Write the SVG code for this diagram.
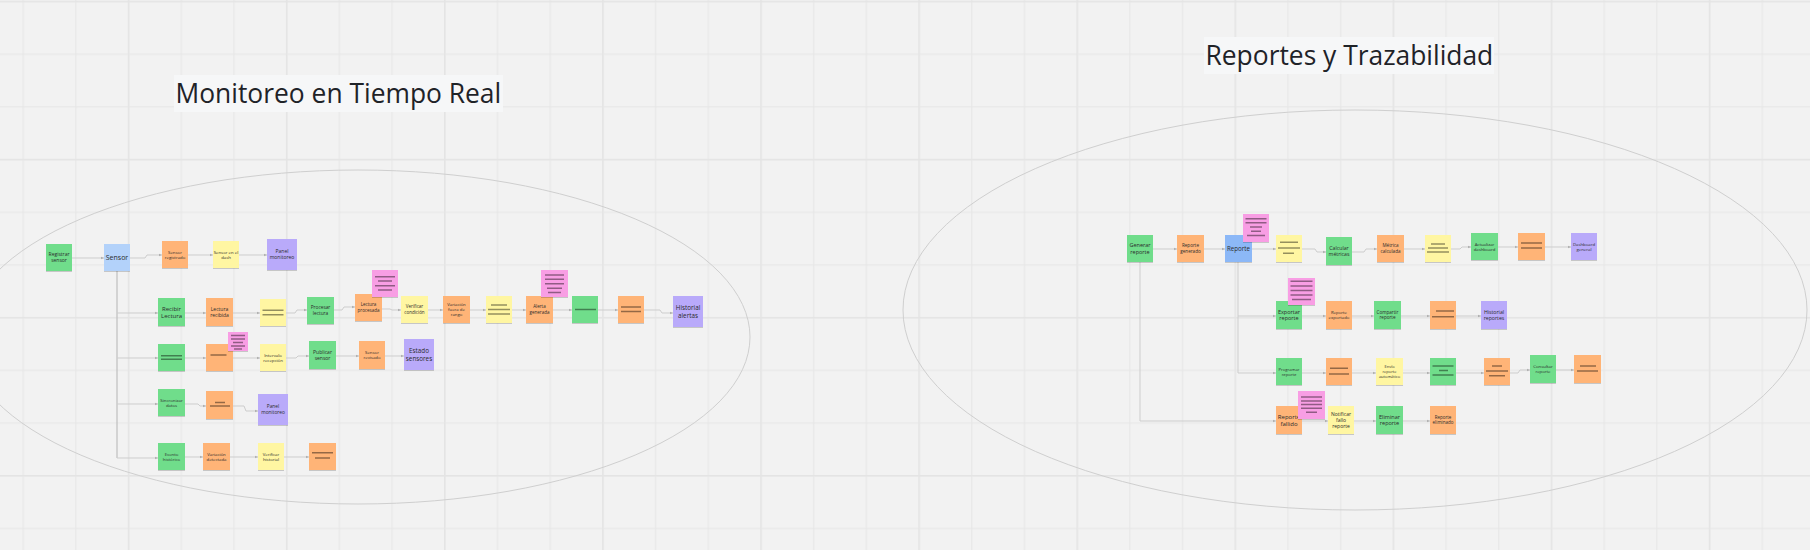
<svg xmlns="http://www.w3.org/2000/svg" width="1810" height="550" viewBox="0 0 1810 550">
<style>
.t{font-family:"Open Sans","Liberation Sans",sans-serif;fill:#2b2b2b;text-anchor:middle}
.title{font-family:"Open Sans","Liberation Sans",sans-serif;fill:#1f2328;font-size:26.4px}
.st{filter:url(#sh)}
.green{fill:#6fdd8b}.orange{fill:#ffb477}.yellow{fill:#fff6a2}.purple{fill:#b9aafa}.pink{fill:#f89ee4}.blue1{fill:#b3d2fa}.blue2{fill:#8cb8f7}
.bar{fill:none;stroke:#000;stroke-opacity:.42;stroke-width:1.5}
.c{fill:none;stroke:#cdcdcd;stroke-width:1;marker-end:url(#ah)}
.tr{fill:none;stroke:#c2c2c2;stroke-width:1.3}
.ell{fill:none;stroke:#cfcfcf;stroke-width:1}
</style>
<defs>
<pattern id="grid" patternUnits="userSpaceOnUse" x="-30.3" y="0.7" width="158.1" height="158.1">
<rect x="0" y="0" width="1.6" height="158.1" fill="#e4e4e4"/>
<rect x="53" y="0" width="1" height="158.1" fill="#e6e6e6"/>
<rect x="105.7" y="0" width="1" height="158.1" fill="#e6e6e6"/>
<rect x="0" y="0" width="158.1" height="1.6" fill="#e4e4e4"/>
<rect x="0" y="53" width="158.1" height="1" fill="#e6e6e6"/>
<rect x="0" y="105.7" width="158.1" height="1" fill="#e6e6e6"/>
</pattern>
<filter id="sh" x="-20%" y="-20%" width="140%" height="150%">
<feDropShadow dx="0" dy="1" stdDeviation="0.7" flood-color="#000" flood-opacity="0.18"/>
</filter>
<marker id="ah" markerUnits="userSpaceOnUse" markerWidth="4" markerHeight="4" refX="3.5" refY="2" orient="auto">
<path d="M0 0.5L3.5 2L0 3.5z" fill="#b0b0b0"/>
</marker>
</defs>
<rect width="1810" height="550" fill="#f2f2f2"/>
<rect width="1810" height="550" fill="url(#grid)"/>

<g id="frames">
<ellipse class="ell" cx="358" cy="337" rx="392" ry="167"/>
<ellipse class="ell" cx="1355" cy="310" rx="452" ry="200"/>
</g>

<g id="title-monitoreo">
<rect x="174" y="75" width="329" height="37" fill="#f6f7f8"/>
<text class="title" x="175.5" y="103.3">Monitoreo en Tiempo Real</text>
</g>
<g id="title-reportes">
<rect x="1204" y="37" width="290" height="37" fill="#f6f7f8"/>
<text class="title" x="1205.5" y="65">Reportes y Trazabilidad</text>
</g>

<g id="connectors">
<path class="c" d="M72 258H104"/>
<path class="c" d="M130 258H145L147 255H162"/>
<path class="c" d="M188 255H213"/>
<path class="c" d="M239 255H267"/>
<path class="tr" d="M117 271V458"/>
<path class="c" d="M117 313H158"/>
<path class="c" d="M117 358H158"/>
<path class="c" d="M117 404H158"/>
<path class="c" d="M117 458H158"/>
<path class="c" d="M185 313H206"/>
<path class="c" d="M233 313H260"/>
<path class="c" d="M286 313H295L297 310H307"/>
<path class="c" d="M334 310H342L344 307H355"/>
<path class="c" d="M382 309H390L392 310H401"/>
<path class="c" d="M428 310H443"/>
<path class="c" d="M470 310H486"/>
<path class="c" d="M512 310H526"/>
<path class="c" d="M553 310H572"/>
<path class="c" d="M598 310H618"/>
<path class="c" d="M644 310H660L662 313H673"/>
<path class="c" d="M185 358H206"/>
<path class="c" d="M233 358H260"/>
<path class="c" d="M286 358H296L298 356H309"/>
<path class="c" d="M336 356H359"/>
<path class="c" d="M385 356H404"/>
<path class="c" d="M185 404H198L200 406H206"/>
<path class="c" d="M233 406H244L246 411H258"/>
<path class="c" d="M185 457H203"/>
<path class="c" d="M230 457H258"/>
<path class="c" d="M284 457H309"/>
<path class="c" d="M1153 249H1177"/>
<path class="c" d="M1204 249H1225"/>
<path class="c" d="M1252 249H1276"/>
<path class="c" d="M1302 249H1315L1317 252H1326"/>
<path class="c" d="M1352 252H1364L1366 249H1377"/>
<path class="c" d="M1404 249H1425"/>
<path class="c" d="M1451 249H1460L1462 247H1471"/>
<path class="c" d="M1498 247H1518"/>
<path class="c" d="M1545 247H1571"/>
<path class="c" d="M1140 262V421H1276"/>
<path class="c" d="M1238 262V373H1276"/>
<path class="c" d="M1238 316H1276"/>
<path class="c" d="M1302 316H1326"/>
<path class="c" d="M1352 316H1374"/>
<path class="c" d="M1401 316H1430"/>
<path class="c" d="M1456 316H1481"/>
<path class="c" d="M1302 373H1326"/>
<path class="c" d="M1352 373H1376"/>
<path class="c" d="M1403 373H1430"/>
<path class="c" d="M1456 373H1484"/>
<path class="c" d="M1510 373H1518L1520 370H1530"/>
<path class="c" d="M1556 370H1574"/>
<path class="c" d="M1302 421H1328"/>
<path class="c" d="M1354 421H1376"/>
<path class="c" d="M1403 421H1430"/>
</g>

<!-- LEFT: Monitoreo -->
<g id="n-registrar-sensor"><rect class="st green" x="46" y="244" width="26" height="27"/><text class="t" font-size="5" x="59" y="256.3"><tspan x="59">Registrar</tspan><tspan x="59" dy="1.2em">sensor</tspan></text></g>
<g id="n-sensor"><rect class="st blue1" x="104" y="244" width="26" height="27"/><text class="t" font-size="7" x="117" y="260">Sensor</text></g>
<g id="n-sensor-registrado"><rect class="st orange" x="162" y="241" width="26" height="27"/><text class="t" font-size="4.3" x="175" y="253.5"><tspan x="175">Sensor</tspan><tspan x="175" dy="1.2em">registrado</tspan></text></g>
<g id="n-sensor-dash"><rect class="st yellow" x="213" y="241" width="26" height="27"/><text class="t" font-size="4.3" x="226" y="253.5"><tspan x="226">Sensor en el</tspan><tspan x="226" dy="1.2em">dash</tspan></text></g>
<g id="n-panel-monitoreo"><rect class="st purple" x="267" y="239" width="30" height="31"/><text class="t" font-size="5" x="282" y="253.3"><tspan x="282">Panel</tspan><tspan x="282" dy="1.2em">monitoreo</tspan></text></g>

<g id="n-recibir-lectura"><rect class="st green" x="158" y="298" width="27" height="28"/><text class="t" font-size="6" x="171.5" y="310.6"><tspan x="171.5">Recibir</tspan><tspan x="171.5" dy="1.2em">Lectura</tspan></text></g>
<g id="n-lectura-recibida"><rect class="st orange" x="206" y="298" width="27" height="28"/><text class="t" font-size="5" x="219.5" y="310.8"><tspan x="219.5">Lectura</tspan><tspan x="219.5" dy="1.2em">recibida</tspan></text></g>
<g id="n-y1"><rect class="st yellow" x="260" y="299" width="26" height="27"/><path class="bar" d="M262.5 310.3H283.5M262.5 314.8H283.5"/></g>
<g id="n-procesar-lectura"><rect class="st green" x="307" y="297" width="27" height="27"/><text class="t" font-size="4.8" x="320.5" y="309.4"><tspan x="320.5">Procesar</tspan><tspan x="320.5" dy="1.2em">lectura</tspan></text></g>
<g id="n-lectura-procesada"><rect class="st orange" x="355" y="294" width="27" height="27"/><text class="t" font-size="4.5" x="368.5" y="306.4"><tspan x="368.5">Lectura</tspan><tspan x="368.5" dy="1.2em">procesada</tspan></text></g>
<g id="n-pink1"><rect class="st pink" x="372" y="270" width="26" height="27"/><path class="bar" d="M375 276.7H395M378 281H392M375 285.7H395M378 290H392"/></g>
<g id="n-verificar-condicion"><rect class="st yellow" x="401" y="296" width="27" height="27"/><text class="t" font-size="4.5" x="414.5" y="308.4"><tspan x="414.5">Verificar</tspan><tspan x="414.5" dy="1.2em">condición</tspan></text></g>
<g id="n-variacion-fuera"><rect class="st orange" x="443" y="296" width="27" height="27"/><text class="t" font-size="4.3" x="456.5" y="305.9"><tspan x="456.5">Variación</tspan><tspan x="456.5" dy="1.2em">fuera de</tspan><tspan x="456.5" dy="1.2em">rango</tspan></text></g>
<g id="n-y2"><rect class="st yellow" x="486" y="296" width="26" height="27"/><path class="bar" d="M491 305H507M488 309.5H510M488 314H510"/></g>
<g id="n-alerta-generada"><rect class="st orange" x="526" y="296" width="27" height="27"/><text class="t" font-size="4.5" x="539.5" y="308.4"><tspan x="539.5">Alerta</tspan><tspan x="539.5" dy="1.2em">generada</tspan></text></g>
<g id="n-pink2"><rect class="st pink" x="541" y="270" width="27" height="27"/><path class="bar" d="M545 275H564M545 279.3H564M545 283.8H564M547 288.2H562M548 292.6H561"/></g>
<g id="n-g2"><rect class="st green" x="572" y="296" width="26" height="27"/><path class="bar" d="M575 309.5H596"/></g>
<g id="n-o2"><rect class="st orange" x="618" y="296" width="26" height="27"/><path class="bar" d="M621 307H641M621 311.5H641"/></g>
<g id="n-historial-alertas"><rect class="st purple" x="673" y="296" width="30" height="31"/><text class="t" font-size="6.3" x="688" y="310"><tspan x="688">Historial</tspan><tspan x="688" dy="1.2em">alertas</tspan></text></g>

<g id="n-g3"><rect class="st green" x="158" y="344" width="27" height="27"/><path class="bar" d="M161 355.8H182M161 359.3H182"/></g>
<g id="n-o3"><rect class="st orange" x="206" y="344" width="27" height="27"/><path class="bar" d="M210.5 355H226.5"/></g>
<g id="n-pink3"><rect class="st pink" x="228" y="332" width="20" height="19"/><path class="bar" stroke-width="1.2" d="M231 335.5H245M231 339H245M233 342.5H243M231 346H245M234 349H242"/></g>
<g id="n-intervalo-recepcion"><rect class="st yellow" x="260" y="344" width="26" height="27"/><text class="t" font-size="4.3" x="273" y="356.5"><tspan x="273">Intervalo</tspan><tspan x="273" dy="1.2em">recepción</tspan></text></g>
<g id="n-publicar-sensor"><rect class="st green" x="309" y="341" width="27" height="28"/><text class="t" font-size="5" x="322.5" y="353.8"><tspan x="322.5">Publicar</tspan><tspan x="322.5" dy="1.2em">sensor</tspan></text></g>
<g id="n-sensor-revisado"><rect class="st orange" x="359" y="341" width="26" height="28"/><text class="t" font-size="4.3" x="372" y="354"><tspan x="372">Sensor</tspan><tspan x="372" dy="1.2em">revisado</tspan></text></g>
<g id="n-estado-sensores"><rect class="st purple" x="404" y="339" width="30" height="31"/><text class="t" font-size="6.3" x="419" y="353"><tspan x="419">Estado</tspan><tspan x="419" dy="1.2em">sensores</tspan></text></g>

<g id="n-sincronizar-datos"><rect class="st green" x="158" y="389" width="27" height="27"/><text class="t" font-size="4.3" x="171.5" y="401.5"><tspan x="171.5">Sincronizar</tspan><tspan x="171.5" dy="1.2em">datos</tspan></text></g>
<g id="n-o4"><rect class="st orange" x="206" y="391" width="27" height="28"/><path class="bar" d="M215 402.5H225M210 406H230"/></g>
<g id="n-panel-monitoreo-2"><rect class="st purple" x="258" y="394" width="30" height="31"/><text class="t" font-size="4.8" x="273" y="408.4"><tspan x="273">Panel</tspan><tspan x="273" dy="1.2em">monitoreo</tspan></text></g>

<g id="n-evento-historico"><rect class="st green" x="158" y="443" width="27" height="27"/><text class="t" font-size="4.3" x="171.5" y="455.5"><tspan x="171.5">Evento</tspan><tspan x="171.5" dy="1.2em">histórico</tspan></text></g>
<g id="n-variacion-detectada"><rect class="st orange" x="203" y="443" width="27" height="27"/><text class="t" font-size="4.3" x="216.5" y="455.5"><tspan x="216.5">Variación</tspan><tspan x="216.5" dy="1.2em">detectada</tspan></text></g>
<g id="n-verificar-historial"><rect class="st yellow" x="258" y="443" width="26" height="27"/><text class="t" font-size="4.3" x="271" y="455.5"><tspan x="271">Verificar</tspan><tspan x="271" dy="1.2em">historial</tspan></text></g>
<g id="n-o5"><rect class="st orange" x="309" y="443" width="27" height="27"/><path class="bar" d="M312 452.7H333M315 458H330"/></g>

<!-- RIGHT: Reportes -->
<g id="n-generar-reporte"><rect class="st green" x="1127" y="235" width="26" height="27"/><text class="t" font-size="5.5" x="1140" y="247.2"><tspan x="1140">Generar</tspan><tspan x="1140" dy="1.2em">reporte</tspan></text></g>
<g id="n-reporte-generado"><rect class="st orange" x="1177" y="235" width="27" height="27"/><text class="t" font-size="4.6" x="1190.5" y="247.4"><tspan x="1190.5">Reporte</tspan><tspan x="1190.5" dy="1.2em">generado</tspan></text></g>
<g id="n-reporte"><rect class="st blue2" x="1225" y="235" width="27" height="27"/><text class="t" font-size="6.2" x="1238.5" y="250.7">Reporte</text></g>
<g id="n-pink4"><rect class="st pink" x="1243" y="214" width="26" height="28"/><path class="bar" d="M1245.5 218.7H1266.5M1245.5 222.8H1266.5M1250 227H1262M1251 231.2H1261M1247 235.5H1265"/></g>
<g id="n-y3"><rect class="st yellow" x="1276" y="235" width="26" height="27"/><path class="bar" d="M1280 242.3H1298M1278 248H1300M1283 253.3H1294"/></g>
<g id="n-calcular-metricas"><rect class="st green" x="1326" y="237" width="26" height="28"/><text class="t" font-size="5.2" x="1339" y="249.8"><tspan x="1339">Calcular</tspan><tspan x="1339" dy="1.2em">métricas</tspan></text></g>
<g id="n-metrica-calculada"><rect class="st orange" x="1377" y="235" width="27" height="27"/><text class="t" font-size="4.6" x="1390.5" y="247.4"><tspan x="1390.5">Métrica</tspan><tspan x="1390.5" dy="1.2em">calculada</tspan></text></g>
<g id="n-y4"><rect class="st yellow" x="1425" y="235" width="26" height="27"/><path class="bar" d="M1431 244H1445M1428 248H1448M1427 252H1449"/></g>
<g id="n-actualizar-dashboard"><rect class="st green" x="1471" y="233" width="27" height="27"/><text class="t" font-size="4.3" x="1484.5" y="245.5"><tspan x="1484.5">Actualizar</tspan><tspan x="1484.5" dy="1.2em">dashboard</tspan></text></g>
<g id="n-o6"><rect class="st orange" x="1518" y="233" width="27" height="27"/><path class="bar" d="M1521 243H1542M1521 248H1542"/></g>
<g id="n-dashboard-general"><rect class="st purple" x="1571" y="233" width="26" height="27"/><text class="t" font-size="4.3" x="1584" y="245.5"><tspan x="1584">Dashboard</tspan><tspan x="1584" dy="1.2em">general</tspan></text></g>

<g id="n-exportar-reporte"><rect class="st green" x="1276" y="301" width="26" height="28"/><text class="t" font-size="5.5" x="1289" y="313.7"><tspan x="1289">Exportar</tspan><tspan x="1289" dy="1.2em">reporte</tspan></text></g>
<g id="n-pink5"><rect class="st pink" x="1288" y="278" width="27" height="27"/><path class="bar" d="M1290.5 281.3H1312.5M1290.5 286H1312.5M1290.5 290.6H1312.5M1290.5 295H1312.5M1292 299.4H1311"/></g>
<g id="n-reporte-exportado"><rect class="st orange" x="1326" y="301" width="26" height="28"/><text class="t" font-size="4.3" x="1339" y="314"><tspan x="1339">Reporte</tspan><tspan x="1339" dy="1.2em">exportado</tspan></text></g>
<g id="n-compartir-reporte"><rect class="st green" x="1374" y="301" width="27" height="28"/><text class="t" font-size="4.6" x="1387.5" y="313.9"><tspan x="1387.5">Compartir</tspan><tspan x="1387.5" dy="1.2em">reporte</tspan></text></g>
<g id="n-o7"><rect class="st orange" x="1430" y="301" width="26" height="28"/><path class="bar" d="M1436 311H1454M1432 316.7H1454"/></g>
<g id="n-historial-reportes"><rect class="st purple" x="1481" y="301" width="26" height="28"/><text class="t" font-size="5.2" x="1494" y="313.8"><tspan x="1494">Historial</tspan><tspan x="1494" dy="1.2em">reportes</tspan></text></g>

<g id="n-programar-reporte"><rect class="st green" x="1276" y="358" width="26" height="27"/><text class="t" font-size="4.2" x="1289" y="370.5"><tspan x="1289">Programar</tspan><tspan x="1289" dy="1.2em">reporte</tspan></text></g>
<g id="n-o8"><rect class="st orange" x="1326" y="358" width="26" height="27"/><path class="bar" d="M1330 368.3H1348M1329 374H1349"/></g>
<g id="n-envio-reporte"><rect class="st yellow" x="1376" y="358" width="27" height="27"/><text class="t" font-size="4" x="1389.5" y="368.1"><tspan x="1389.5">Envío</tspan><tspan x="1389.5" dy="1.2em">reporte</tspan><tspan x="1389.5" dy="1.2em">automático</tspan></text></g>
<g id="n-g4"><rect class="st green" x="1430" y="358" width="26" height="27"/><path class="bar" d="M1432.5 366H1453.5M1439 370.4H1448M1432.5 375H1453.5"/></g>
<g id="n-o9"><rect class="st orange" x="1484" y="358" width="26" height="27"/><path class="bar" d="M1492 366H1502M1486 371H1508M1489 375.7H1505"/></g>
<g id="n-consultar-reporte"><rect class="st green" x="1530" y="355" width="26" height="28"/><text class="t" font-size="4.3" x="1543" y="368"><tspan x="1543">Consultar</tspan><tspan x="1543" dy="1.2em">reporte</tspan></text></g>
<g id="n-o10"><rect class="st orange" x="1574" y="355" width="27" height="28"/><path class="bar" d="M1580 366H1596M1577 371H1598"/></g>

<g id="n-reporte-fallido"><rect class="st orange" x="1276" y="406" width="26" height="28"/><text class="t" font-size="6" x="1289" y="418.6"><tspan x="1289">Reporte</tspan><tspan x="1289" dy="1.2em">fallido</tspan></text></g>
<g id="n-pink6"><rect class="st pink" x="1298" y="391" width="27" height="28"/><path class="bar" d="M1301 397H1322M1301 401H1322M1301 404.6H1322M1301 408.3H1322M1306 412.3H1317"/></g>
<g id="n-notificar-fallo"><rect class="st yellow" x="1328" y="406" width="26" height="28"/><text class="t" font-size="5" x="1341" y="415.8"><tspan x="1341">Notificar</tspan><tspan x="1341" dy="1.2em">fallo</tspan><tspan x="1341" dy="1.2em">reporte</tspan></text></g>
<g id="n-eliminar-reporte"><rect class="st green" x="1376" y="406" width="27" height="28"/><text class="t" font-size="5.5" x="1389.5" y="418.7"><tspan x="1389.5">Eliminar</tspan><tspan x="1389.5" dy="1.2em">reporte</tspan></text></g>
<g id="n-reporte-eliminado"><rect class="st orange" x="1430" y="406" width="26" height="28"/><text class="t" font-size="4.5" x="1443" y="418.9"><tspan x="1443">Reporte</tspan><tspan x="1443" dy="1.2em">eliminado</tspan></text></g>
</svg>
